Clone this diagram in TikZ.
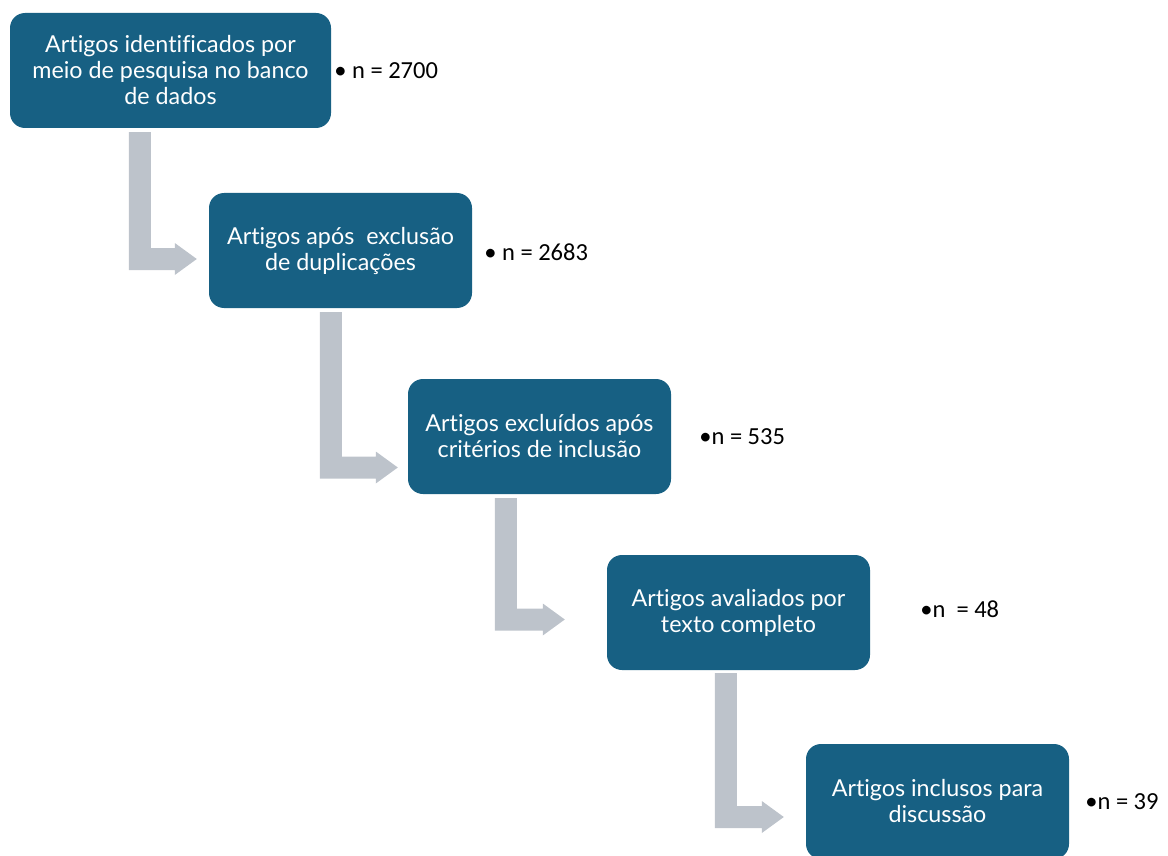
\documentclass[tikz,border=0pt]{standalone}
\usepackage{fontspec}
\setmainfont{Carlito}
\newfontfamily\boxfont[Ligatures=NoCommon]{Lato}
\usetikzlibrary{positioning,calc}
\definecolor{boxBlue}{HTML}{176083}
\definecolor{arrowGray}{HTML}{BDC3CB}
\tikzset{%
  % Specifications for style of nodes:
    stageBox/.style = {rectangle, rounded corners=15pt, fill=boxBlue, text=white, align=center,
        minimum width=263pt, minimum height=115pt, inner sep=0pt,
        font=\boxfont\fontsize{23.3}{26}\selectfont},
    countLabel/.style = {inner sep=0pt, anchor=west, font=\fontsize{24.5}{28}\selectfont},
    flowArrow/.style = {fill=arrowGray},
}

\begin{document}
\begin{tikzpicture}[x=1pt,y=-1pt]
	\useasboundingbox (0,0) rectangle (1168,856);
	\begin{scope}
	\clip (0,0) rectangle (1168,856);

	\node [stageBox, minimum width=321pt] (b1) at (170.5,70.5) {Artigos identificados por\\meio de pesquisa no banco\\de dados};
	\node [stageBox] (b2) at (340.5,250.5) {Artigos após\ \ exclusão\\de duplicações};
	\node [stageBox] (b3) at (539.5,436.5) {Artigos excluídos após\\critérios de inclusão};
	\node [stageBox] (b4) at (738.5,612.5) {Artigos avaliados por\\texto completo};
	\node [stageBox] (b5) at (937.5,801.5) {Artigos inclusos para\\discussão};

	\node [countLabel, right=3pt of b1] (n1) {• n = 2700};
	\node [countLabel, right=12pt of b2, yshift=-2pt] (n2) {• n = 2683};
	\node [countLabel, right=28pt of b3] (n3) {•n = 535};
	\node [countLabel, right=50pt of b4, yshift=3pt] (n4) {•n\ \ = 48};
	\node [countLabel, right=16pt of b5] (n5) {•n = 39};

	\coordinate (a1s) at ($(b1.south west)+(119,4)$);
	\coordinate (a1e) at ($(b2.west)+(-12,8.5)$);
	\coordinate (a2s) at ($(b2.south west)+(111,4)$);
	\coordinate (a2e) at ($(b3.west)+(-10,31)$);
	\coordinate (a3s) at ($(b3.south west)+(87,4)$);
	\coordinate (a3e) at ($(b4.west)+(-42,7)$);
	\coordinate (a4s) at ($(b4.south west)+(108,3)$);
	\coordinate (a4e) at ($(b5.west)+(-22,15.5)$);

	\fill[flowArrow] (a1s) -- ++(22,0) |- ($(a1e)+(-22,-11)$) -- ++(0,-5) -- (a1e) -- ++(-22,16) -- ++(0,-5) -| (a1s) -- cycle;
	\fill[flowArrow] (a2s) -- ++(22,0) |- ($(a2e)+(-22,-11)$) -- ++(0,-5) -- (a2e) -- ++(-22,16) -- ++(0,-5) -| (a2s) -- cycle;
	\fill[flowArrow] (a3s) -- ++(22,0) |- ($(a3e)+(-22,-11)$) -- ++(0,-5) -- (a3e) -- ++(-22,16) -- ++(0,-5) -| (a3s) -- cycle;
	\fill[flowArrow] (a4s) -- ++(22,0) |- ($(a4e)+(-22,-11)$) -- ++(0,-5) -- (a4e) -- ++(-22,16) -- ++(0,-5) -| (a4s) -- cycle;
	\end{scope}
\end{tikzpicture}
\end{document}
